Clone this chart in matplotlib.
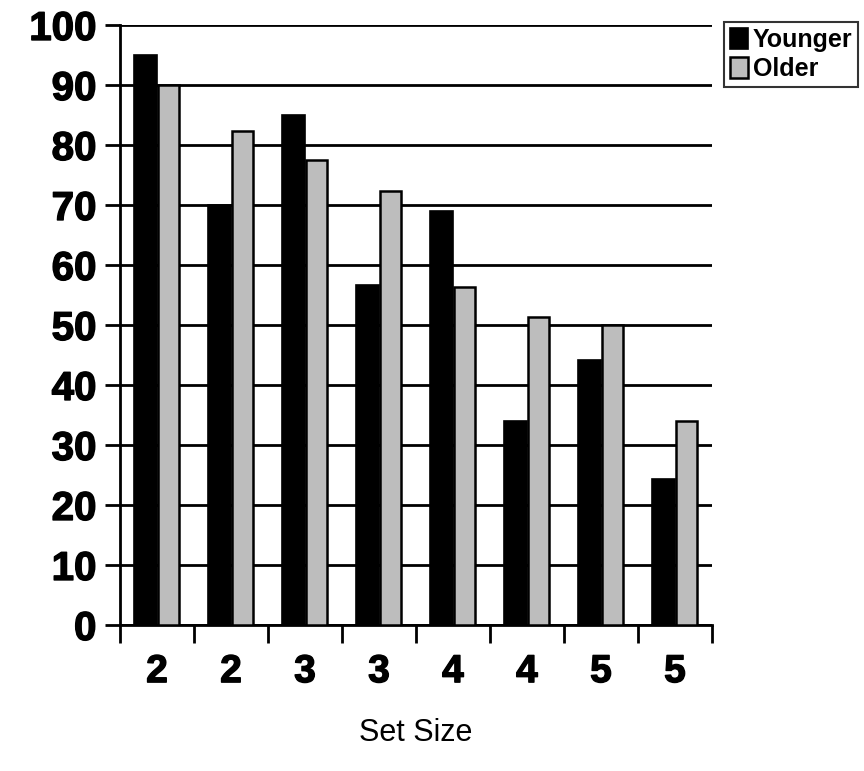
import numpy as np
import matplotlib.pyplot as plt
import matplotlib.patheffects as pe
from matplotlib.ticker import FixedLocator

# 各组数据（按集合大小排列，每个大小两组）
set_sizes = ['2', '2', '3', '3', '4', '4', '5', '5']
younger = [95, 70, 85, 56.7, 69, 34, 44.2, 24.4]
older = [90, 82.3, 77.5, 72.4, 56.3, 51.4, 50, 34]
y_ticks = list(range(0, 101, 10))

plt.rcParams['font.family'] = ['Liberation Sans', 'DejaVu Sans']

fig = plt.figure(figsize=(8.64, 7.71), dpi=100)
ax = fig.add_axes([0.1389, 0.1894, 0.824 - 0.1389, 0.9676 - 0.1894])

x = np.arange(len(set_sizes))
w = 0.31
ax.bar(x - w / 2, younger, width=w, color='black', edgecolor='black',
       linewidth=1.2, label='Younger', zorder=3)
ax.bar(x + w / 2, older, width=w * 0.9, color='#bdbdbd', edgecolor='black',
       linewidth=1.8, label='Older', zorder=3)

ax.set_xlim(-0.5, len(set_sizes) - 0.5)
ax.set_ylim(0, 100)

# 网格线
ax.set_yticks(y_ticks)
ax.yaxis.grid(True, color='black', linewidth=2, zorder=0)
ax.set_axisbelow(True)

for side in ['top', 'right']:
    ax.spines[side].set_visible(False)
ax.spines['left'].set_linewidth(2)
ax.spines['bottom'].set_linewidth(2)

heavy = [pe.withStroke(linewidth=1.0, foreground='black')]

ax.tick_params(axis='y', direction='out', length=11, width=2, pad=6,
               labelsize=29)
for lbl in ax.get_yticklabels():
    lbl.set_fontweight('bold')
    lbl.set_path_effects(heavy)

ax.set_xticks(x)
ax.set_xticklabels(set_sizes, fontsize=28, fontweight='bold')
for lbl in ax.get_xticklabels():
    lbl.set_path_effects(heavy)
ax.xaxis.set_minor_locator(FixedLocator(np.arange(-0.5, len(set_sizes), 1.0)))
ax.tick_params(axis='x', which='major', length=0, pad=21)
ax.tick_params(axis='x', which='minor', direction='out', length=13, width=2)

ax.set_xlabel('Set Size', fontsize=22, labelpad=20)

leg = ax.legend(loc='upper left', bbox_to_anchor=(1.02, 1.005),
                frameon=True, fancybox=False, edgecolor='black',
                handlelength=0.7, handleheight=0.9, handletextpad=0.2,
                borderpad=0.25, labelspacing=0.2, borderaxespad=0,
                prop={'family': ['Liberation Sans Narrow', 'Liberation Sans'],
                      'weight': 'bold', 'size': 18})
leg.get_frame().set_linewidth(1.5)

fig.savefig('out.png', dpi=100)
